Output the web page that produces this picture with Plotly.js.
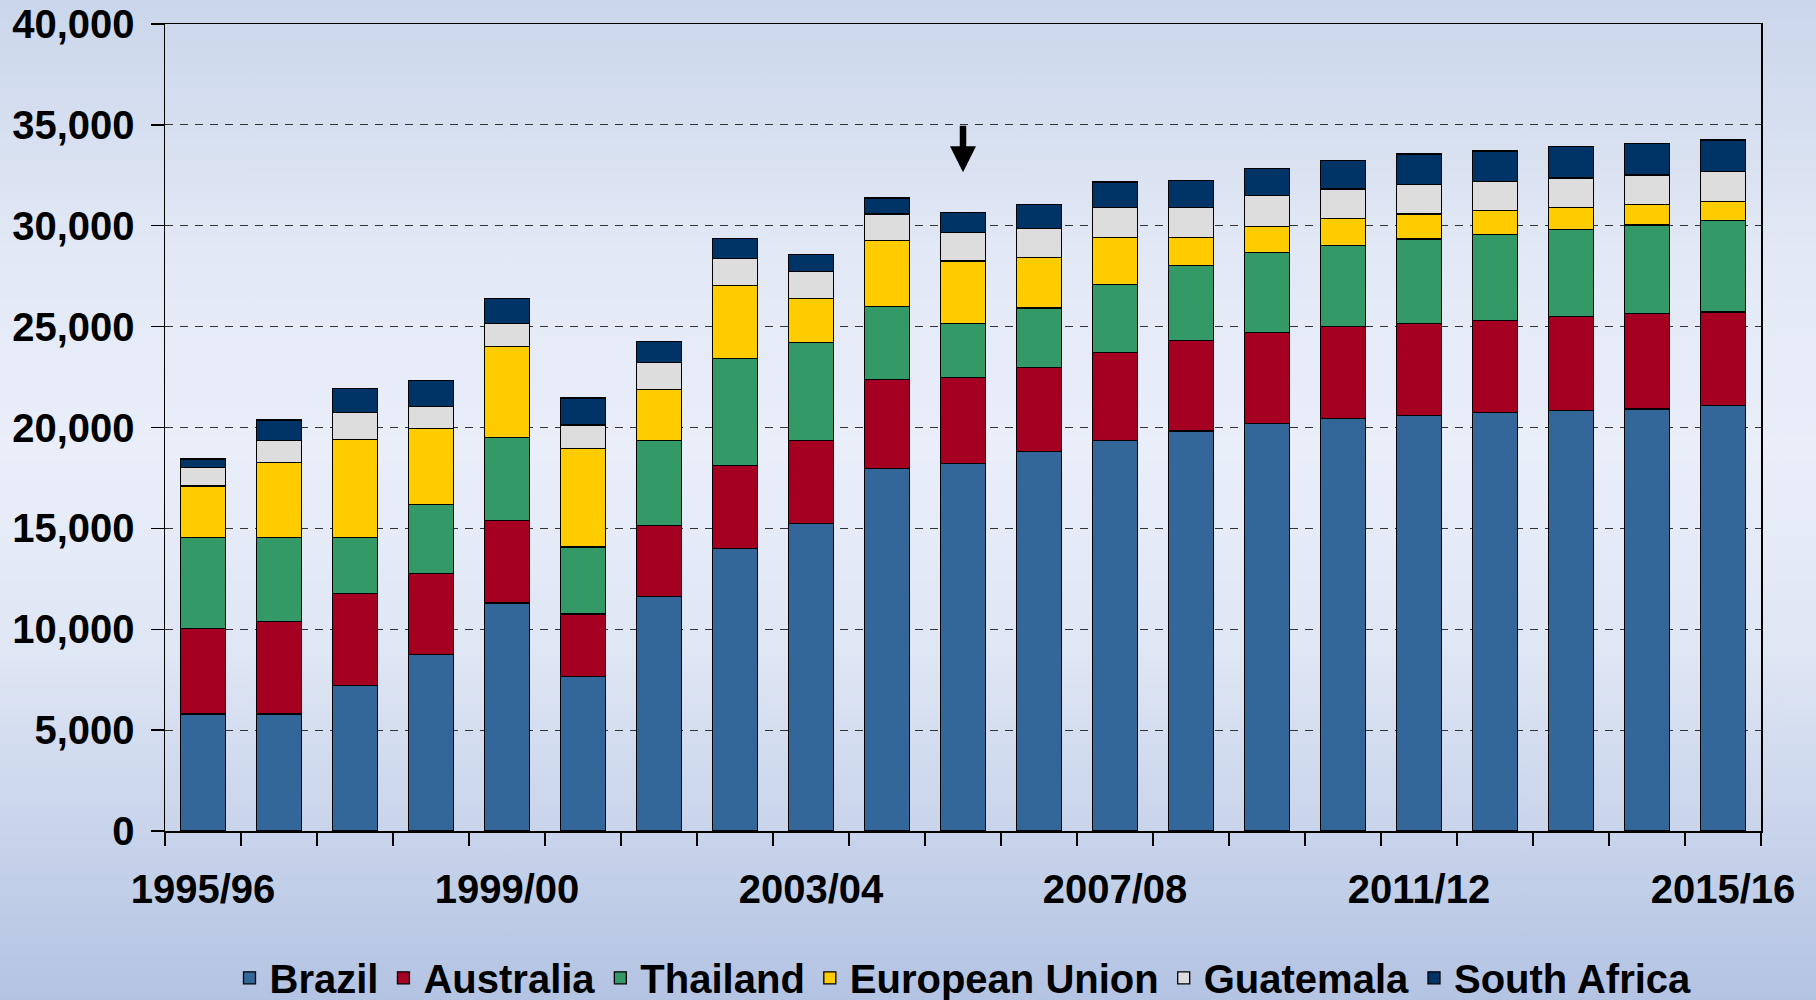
<!DOCTYPE html>
<html><head><meta charset="utf-8">
<script src="https://cdn.plot.ly/plotly-3.0.1.min.js"></script>
<style>
html,body{margin:0;padding:0;}
body{width:1816px;height:1000px;overflow:hidden;background:linear-gradient(to bottom,#cad6eb 0%,#e2e8f5 25%,#e9eef9 45%,#dfe6f4 65%,#b3c3e2 100%);}
#chart{width:1816px;height:1000px;}
</style></head><body><div id="chart"></div>
<script>
const seasons = ['1995/96','1996/97','1997/98','1998/99','1999/00','2000/01','2001/02','2002/03','2003/04','2004/05','2005/06','2006/07','2007/08','2008/09','2009/10','2010/11','2011/12','2012/13','2013/14','2014/15','2015/16'];
const tickLabels = ['1995/96','','','','1999/00','','','','2003/04','','','','2007/08','','','','2011/12','','','','2015/16'];
const brazil    = [5800,5800,7200,8740,11300,7670,11610,14000,15240,17960,18210,18820,19350,19820,20210,20440,20590,20740,20840,20910,21080];
const australia = [4250,4570,4580,4040,4100,3080,3550,4130,4120,4420,4260,4170,4360,4490,4490,4570,4570,4580,4650,4740,4640];
const thailand  = [4510,4190,2780,3400,4110,3330,4200,5280,4870,3630,2700,2940,3390,3720,3960,4020,4190,4240,4320,4390,4550];
const eu        = [2540,3700,4850,3780,4490,4870,2540,3630,2180,3250,3090,2490,2310,1400,1300,1320,1240,1180,1090,1010,940];
const guatemala = [930,1090,1330,1090,1160,1170,1310,1320,1320,1330,1400,1450,1490,1480,1530,1470,1460,1460,1470,1470,1470];
const southAfrica = [410,1020,1180,1270,1250,1340,1060,1020,860,790,1010,1190,1270,1320,1350,1400,1510,1510,1560,1560,1570];
const seriesNames = ['Brazil','Australia','Thailand','European Union','Guatemala','South Africa'];
const seriesColors = ['#336699','#a50021','#339966','#ffcc00','#dddddd','#003366'];
const arrowSeason = '2005/06';
const arrowTipValue = 32650;

const seriesData = [brazil, australia, thailand, eu, guatemala, southAfrica];
const traces = seriesData.map((vals, i) => ({
  type: 'bar', name: seriesNames[i], x: seasons, y: vals,
  marker: {color: seriesColors[i], line: {color: '#000', width: 1.3}},
  hoverinfo: 'x+y+name'
}));

const font = {family: 'Liberation Sans, Arial, sans-serif', size: 40, color: '#000', weight: 700};
const layout = {
  width: 1816, height: 1000,
  paper_bgcolor: 'rgba(0,0,0,0)', plot_bgcolor: 'rgba(0,0,0,0)',
  margin: {l: 165, r: 55, t: 24, b: 169, autoexpand: false},
  barmode: 'stack', bargap: 0.4,
  font: font,
  showlegend: true,
  legend: {orientation: 'h', x: 0.5, xanchor: 'center', y: -0.182, yanchor: 'middle',
           font: font, bgcolor: 'rgba(0,0,0,0)', traceorder: 'normal', itemwidth: 30},
  xaxis: {type: 'category', tickmode: 'array', tickvals: seasons, ticktext: tickLabels, tickangle: 0,
          tickson: 'boundaries', ticks: 'outside', ticklen: 13, tickcolor: '#000', tickwidth: 1.3,
          showline: true, linecolor: '#000', linewidth: 1.5, mirror: true, showgrid: false,
          ticklabelstandoff: 22, tickfont: font, automargin: false},
  yaxis: {range: [0, 40000], dtick: 5000, tickformat: ',d', ticks: 'outside', ticklen: 13,
          tickcolor: '#000', tickwidth: 1.3, showline: true, linecolor: '#000', linewidth: 1.5,
          mirror: true, showgrid: true, gridcolor: '#333', gridwidth: 1, griddash: '8px,7px',
          zeroline: false, ticklabelstandoff: 8, tickfont: font, automargin: false},
  annotations: [{x: arrowSeason, y: arrowTipValue, xref: 'x', yref: 'y', text: '', showarrow: true,
                 arrowhead: 2, arrowsize: 0.8, arrowwidth: 6.5, arrowcolor: '#000', ax: 0, ay: -48}]
};
Plotly.newPlot('chart', traces, layout, {displayModeBar: false, staticPlot: true});
</script></body></html>
